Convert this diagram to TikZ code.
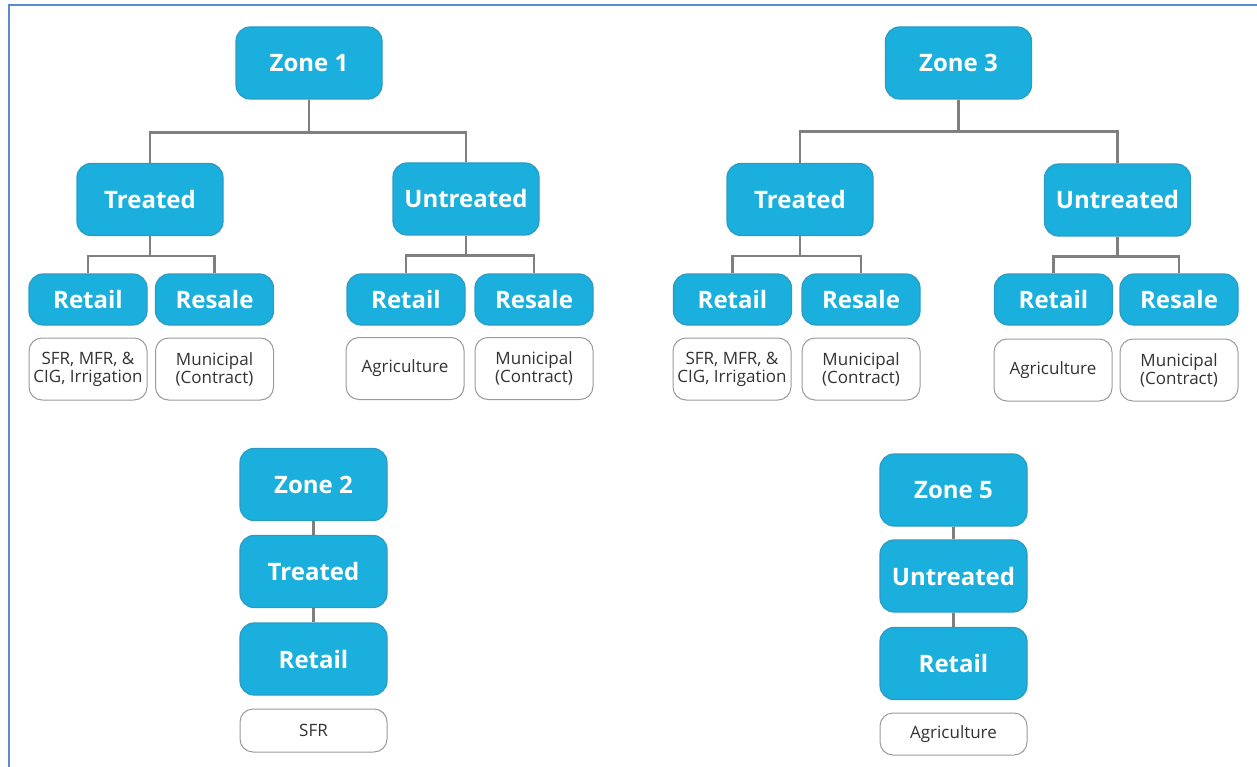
\documentclass[tikz,border=0pt]{standalone}
\usepackage{fontspec}
\setmainfont{Open Sans}
\usetikzlibrary{positioning}
\definecolor{ZoneBlue}{HTML}{1AAFDC}
\definecolor{ZoneEdge}{HTML}{2B9BC4}
\definecolor{LinkGray}{HTML}{7F7F7F}
\definecolor{LeafEdge}{HTML}{9A9A9A}
\definecolor{FrameBlue}{HTML}{5B8BD1}

\tikzset{
  bigbox/.style={draw=ZoneEdge, fill=ZoneBlue, line width=1.2pt, rounded corners=14pt,
    minimum width=146pt, minimum height=72pt, inner sep=0pt,
    text=white, font=\fontsize{24}{28}\selectfont\bfseries},
  midbox/.style={bigbox, minimum width=118pt, minimum height=51pt},
  leafbox/.style={draw=LeafEdge, fill=white, line width=1pt, rounded corners=13pt,
    minimum width=118pt, minimum height=62pt, inner sep=0pt, align=center,
    text=black!80, font=\fontsize{17}{18}\selectfont},
  link/.style={draw=LinkGray, line width=2.5pt}
}

\begin{document}
\begin{tikzpicture}[x=1pt, y=-1pt]
        \useasboundingbox (0,0) rectangle (1257,767);
        % Frame (top and left only)
        \draw[FrameBlue, line width=2pt] (8.5,767) -- (8.5,5.5) -- (1257,5.5);

        % Zone 1
        \node[bigbox] (z1) at (309,63) {Zone 1};
        \node[bigbox] (t1) at (150,199.5) {Treated};
        \node[bigbox] (u1) at (466,199) {Untreated};
        \node[midbox] (t1ret) at (88,299.5) {Retail};
        \node[midbox] (t1res) at (214.5,299.5) {Resale};
        \node[midbox] (u1ret) at (406,299.5) {Retail};
        \node[midbox] (u1res) at (534,299.5) {Resale};
        \node[leafbox] (t1retL) at (88,369) {SFR, MFR, \&\\CIG, Irrigation};
        \node[leafbox] (t1resL) at (214.5,369) {Municipal\\(Contract)};
        \node[leafbox] (u1retL) at (405,368.5) {Agriculture};
        \node[leafbox] (u1resL) at (534,368.5) {Municipal\\(Contract)};
        \draw[link] (z1.south) -- ++(0,33) -| (t1.north);
        \draw[link] (z1.south) -- ++(0,33) -| (u1.north);
        \draw[link] (t1.south) -- ++(0,20) -| (t1ret.north);
        \draw[link] (t1.south) -- ++(0,20) -| (t1res.north);
        \draw[link] (u1.south) -- ++(0,20) -| (u1ret.north);
        \draw[link] (u1.south) -- ++(0,20) -| (u1res.north);

        % Zone 3
        \node[bigbox] (z3) at (958.5,63) {Zone 3};
        \node[bigbox] (t3) at (800,199.5) {Treated};
        \node[bigbox] (u3) at (1117.5,200) {Untreated};
        \node[midbox] (t3ret) at (732.5,299.5) {Retail};
        \node[midbox] (t3res) at (861,299.5) {Resale};
        \node[midbox] (u3ret) at (1053.5,299.5) {Retail};
        \node[midbox] (u3res) at (1179,299.5) {Resale};
        \node[leafbox] (t3retL) at (732,369) {SFR, MFR, \&\\CIG, Irrigation};
        \node[leafbox] (t3resL) at (861,369) {Municipal\\(Contract)};
        \node[leafbox] (u3retL) at (1053,370) {Agriculture};
        \node[leafbox] (u3resL) at (1179,370) {Municipal\\(Contract)};
        \draw[link] (z3.south) -- ++(0,32) -| (t3.north);
        \draw[link] (z3.south) -- ++(0,32) -| (u3.north);
        \draw[link] (t3.south) -- ++(0,20) -| (t3ret.north);
        \draw[link] (t3.south) -- ++(0,20) -| (t3res.north);
        \draw[link] (u3.south) -- ++(0,20) -| (u3ret.north);
        \draw[link] (u3.south) -- ++(0,20) -| (u3res.north);

        % Zone 2
        \node[bigbox, minimum width=147pt] (z2) at (313.5,484.5) {Zone 2};
        \node[bigbox, minimum width=147pt] (t2) at (313.5,571.5) {Treated};
        \node[bigbox, minimum width=147pt] (t2ret) at (313.5,659) {Retail};
        \node[leafbox, minimum width=147pt, minimum height=43pt] (t2retL) at (313.5,730.5) {SFR};
        \draw[link] (z2.south) -- (t2.north);
        \draw[link] (t2.south) -- (t2ret.north);

        % Zone 5
        \node[bigbox, minimum width=147pt] (z5) at (953.5,490) {Zone 5};
        \node[bigbox, minimum width=147pt] (u5) at (953.5,576) {Untreated};
        \node[bigbox, minimum width=147pt] (u5ret) at (953.5,663.5) {Retail};
        \node[leafbox, minimum width=147pt, minimum height=42pt] (u5retL) at (953.5,734) {Agriculture};
        \draw[link] (z5.south) -- (u5.north);
        \draw[link] (u5.south) -- (u5ret.north);
\end{tikzpicture}
\end{document}
